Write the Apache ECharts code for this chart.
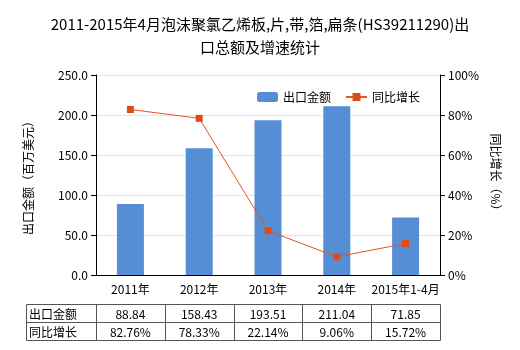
<!DOCTYPE html>
<html>
<head>
<meta charset="utf-8">
<script src="https://cdn.jsdelivr.net/npm/echarts@6/dist/echarts.min.js"></script>
<style>html,body{margin:0;padding:0;background:#fff;}#main{width:520px;height:350px;}</style>
</head>
<body>
<div id="main"></div>
<script>
var categories = ['2011年', '2012年', '2013年', '2014年', '2015年1-4月'];
var exportValues = [88.84, 158.43, 193.51, 211.04, 71.85];
var growthValues = [82.76, 78.33, 22.14, 9.06, 15.72];
var exportLabels = ['88.84', '158.43', '193.51', '211.04', '71.85'];
var growthLabels = ['82.76%', '78.33%', '22.14%', '9.06%', '15.72%'];
var rowNames = ['出口金额', '同比增长'];

var FONT = '"Noto Sans CJK SC", "Microsoft YaHei", sans-serif';
var G = {left: 96, right: 80, top: 75, bottom: 75};
var W = 520;
var plotW = W - G.left - G.right;
var tableLeft = 26, tableTop = 304, rowH = 18;

var graphics = [];
var colW = plotW / categories.length;
graphics.push({type: 'rect', shape: {x: tableLeft + 0.5, y: tableTop + 0.5, width: G.left + plotW - tableLeft, height: rowH * 2}, style: {fill: 'none', stroke: '#555', lineWidth: 1}});
graphics.push({type: 'line', shape: {x1: tableLeft, y1: tableTop + rowH + 0.5, x2: G.left + plotW, y2: tableTop + rowH + 0.5}, style: {stroke: '#555', lineWidth: 1}});
for (var i = 0; i < categories.length; i++) {
  var x = Math.round(G.left + i * colW) + 0.5;
  graphics.push({type: 'line', shape: {x1: x, y1: tableTop, x2: x, y2: tableTop + rowH * 2}, style: {stroke: '#555', lineWidth: 1}});
}
var rows = [exportLabels, growthLabels];
for (var r = 0; r < rows.length; r++) {
  var cy = tableTop + rowH * r + rowH / 2 + 1;
  graphics.push({type: 'text', x: tableLeft + 3, y: cy, style: {text: rowNames[r], font: '12px ' + FONT, fill: '#000', textVerticalAlign: 'middle', textAlign: 'left'}});
  for (var c = 0; c < categories.length; c++) {
    graphics.push({type: 'text', x: G.left + (c + 0.5) * colW, y: cy, style: {text: rows[r][c], font: '12px ' + FONT, fill: '#000', textVerticalAlign: 'middle', textAlign: 'center'}});
  }
}

var chart = echarts.init(document.getElementById('main'));
chart.setOption({
  animation: false,
  title: {
    text: '2011-2015年4月泡沫聚氯乙烯板,片,带,箔,扁条(HS39211290)出\n口总额及增速统计',
    left: 'center', top: 8,
    textStyle: {fontFamily: FONT, fontSize: 15, fontWeight: 'normal', color: '#000', lineHeight: 23}
  },
  legend: {
    left: 252, top: 86, itemWidth: 21, itemHeight: 10, itemGap: 14,
    textStyle: {fontFamily: FONT, fontSize: 12, color: '#000'},
    data: [{name: '出口金额'}, {name: '同比增长'}]
  },
  grid: {left: G.left, right: G.right, top: G.top, bottom: G.bottom, containLabel: false},
  xAxis: {
    type: 'category', data: categories,
    axisLine: {lineStyle: {color: '#000'}},
    axisTick: {show: false},
    axisLabel: {color: '#000', fontFamily: FONT, fontSize: 12, margin: 8, interval: 0}
  },
  yAxis: [{
    type: 'value', min: 0, max: 250, interval: 50,
    name: '出口金额（百万美元）', nameLocation: 'middle', nameGap: 62,
    nameTextStyle: {fontFamily: FONT, fontSize: 12, color: '#000'},
    axisLine: {show: true, lineStyle: {color: '#000'}},
    axisTick: {show: true, length: 5, lineStyle: {color: '#000'}},
    axisLabel: {color: '#000', fontFamily: FONT, fontSize: 12, formatter: function (v) { return v.toFixed(1); }},
    splitLine: {lineStyle: {color: '#e4e4e4'}}
  }, {
    type: 'value', min: 0, max: 100, interval: 20,
    name: '同比增长（%）', nameLocation: 'middle', nameGap: 40, nameRotate: -90,
    nameTextStyle: {fontFamily: FONT, fontSize: 12, color: '#000'},
    axisLine: {show: true, lineStyle: {color: '#000'}},
    axisTick: {show: true, length: 5, lineStyle: {color: '#000'}},
    axisLabel: {color: '#000', fontFamily: FONT, fontSize: 12, formatter: '{value}%'},
    splitLine: {show: false}
  }],
  series: [{
    name: '出口金额', type: 'bar', data: exportValues, barWidth: 27,
    itemStyle: {color: '#558ed5'}
  }, {
    name: '同比增长', type: 'line', yAxisIndex: 1, data: growthValues,
    symbol: 'rect', symbolSize: 7,
    lineStyle: {color: '#e2561f', width: 1},
    itemStyle: {color: '#e04a19'}
  }],
  graphic: graphics
});
</script>
</body>
</html>
